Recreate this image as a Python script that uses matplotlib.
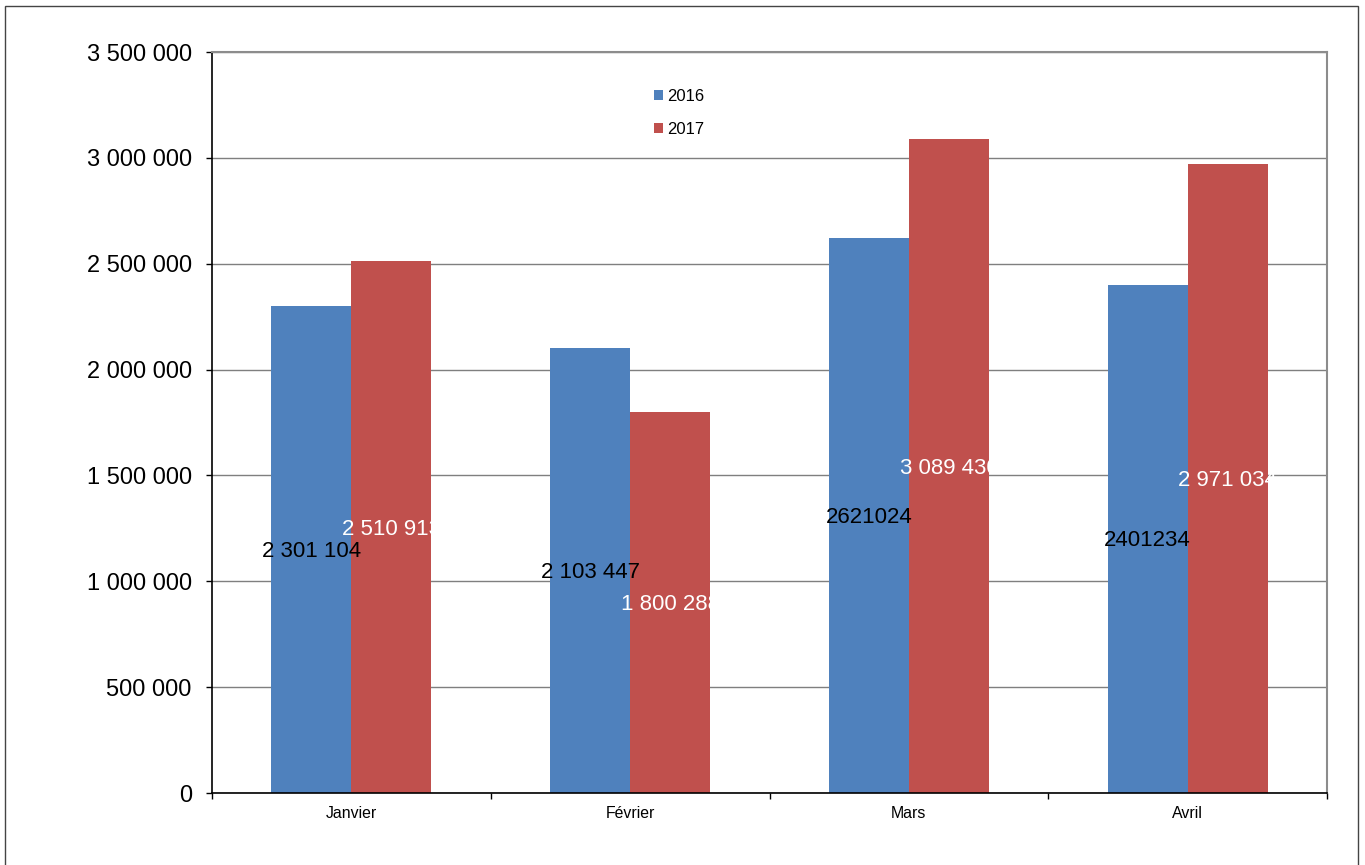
import matplotlib
import numpy as np

matplotlib.use("Agg")
import matplotlib.pyplot as plt  # noqa: E402
from matplotlib.patches import Rectangle  # noqa: E402
from matplotlib.ticker import FuncFormatter  # noqa: E402

plt.rcParams["font.family"] = ["Liberation Sans", "DejaVu Sans"]

months = ["Janvier", "Février", "Mars", "Avril"]
values_2016 = [2301104, 2103447, 2621024, 2401234]
values_2017 = [2510913, 1800288, 3089430, 2971034]
labels_2016 = ["2 301 104", "2 103 447", "2621024", "2401234"]
labels_2017 = ["2 510 913", "1 800 288", "3 089 430", "2 971 034"]

BLUE = "#4F81BD"
RED = "#C0504D"


def space_thousands(value, _pos):
    return f"{value:,.0f}".replace(",", " ")


fig = plt.figure(figsize=(13.65, 8.65), dpi=100)
ax = fig.add_axes([212 / 1365, 1 - 793 / 865, (1327 - 212) / 1365, (793 - 52) / 865])

x = np.arange(len(months))
width = 0.287
bars_2016 = ax.bar(x - width / 2, values_2016, width, color=BLUE, label="2016", zorder=2)
bars_2017 = ax.bar(x + width / 2, values_2017, width, color=RED, label="2017", zorder=2)

# labels sit in the middle of each bar; the 2017 ones are white, so they vanish past the bar edge
for bars, texts, colour in [(bars_2016, labels_2016, "black"), (bars_2017, labels_2017, "white")]:
    for bar, text in zip(bars, texts):
        ax.annotate(text, (bar.get_x() + bar.get_width() / 2, bar.get_height() / 2),
                    xytext=(0, -1.5), textcoords="offset points",
                    ha="center", va="center", fontsize=16, color=colour, zorder=3)

ax.set_xlim(-0.5, len(months) - 0.5)
ax.set_ylim(0, 3500000)
ax.set_yticks(np.arange(0, 3500001, 500000))
ax.yaxis.set_major_formatter(FuncFormatter(space_thousands))
ax.tick_params(axis="y", labelsize=17, length=4.5, width=1, pad=10, direction="out")

ax.set_xticks(x)
ax.set_xticklabels(months, fontsize=11.4)
ax.set_xticks(np.arange(-0.5, len(months)), minor=True)
ax.tick_params(axis="x", which="major", length=0, pad=9)
ax.tick_params(axis="x", which="minor", length=4, width=1, direction="out")

ax.grid(axis="y", color="#7f7f7f", linewidth=1, zorder=0)
ax.set_axisbelow(True)
for side in ["left", "bottom"]:
    ax.spines[side].set_color("black")
    ax.spines[side].set_linewidth(1.2)
for side in ["top", "right"]:
    ax.spines[side].set_color("#8c8c8c")
    ax.spines[side].set_linewidth(1.5)

ax.legend(loc="upper left", bbox_to_anchor=(654 / 1365, 1 - 89 / 865),
          bbox_transform=fig.transFigure, frameon=False, fontsize=12,
          handlelength=0.55, handleheight=0.55, handletextpad=0.25,
          labelspacing=1.08, borderpad=0, borderaxespad=0)

fig.add_artist(Rectangle((5 / 1365, -0.05), (1358 - 5) / 1365, 1.05 - 6 / 865,
                         transform=fig.transFigure, fill=False,
                         edgecolor="#444444", linewidth=1))

fig.savefig("out.png", dpi=100)
plt.close(fig)
